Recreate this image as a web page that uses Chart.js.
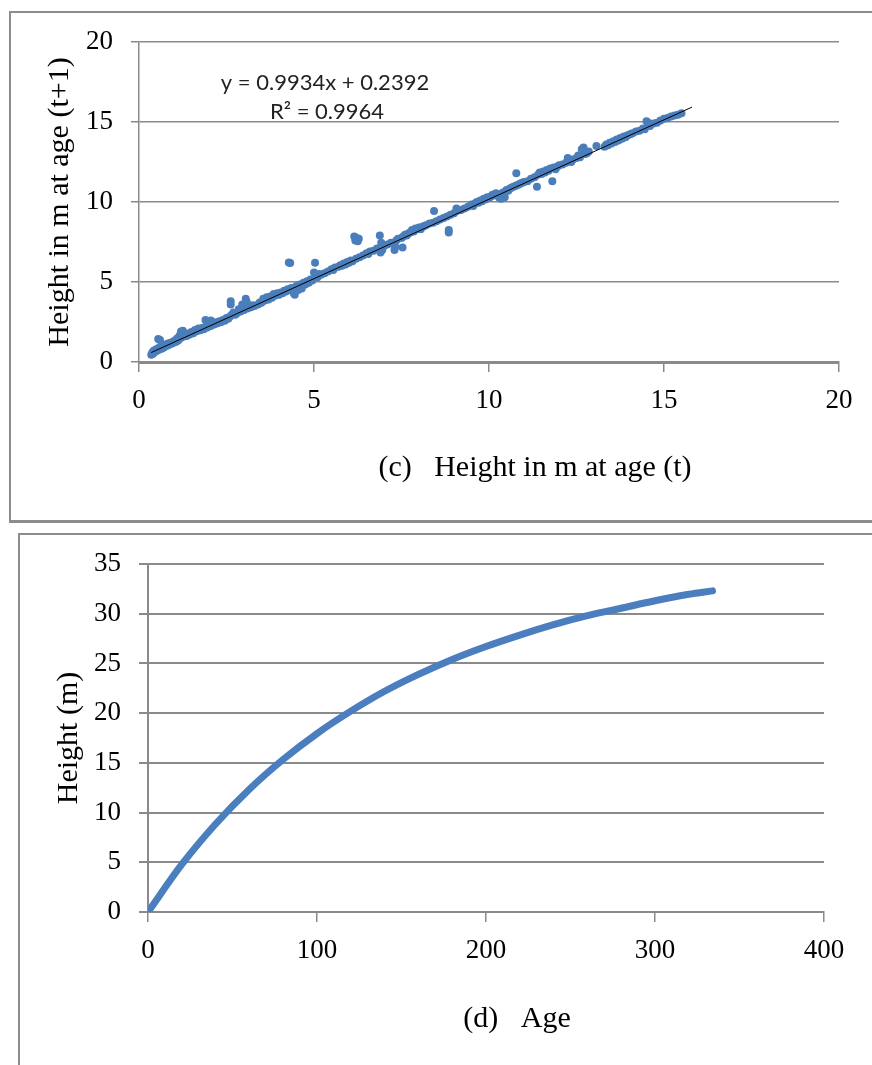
<!DOCTYPE html>
<html>
<head>
<meta charset="utf-8">
<script src="https://cdn.jsdelivr.net/npm/chart.js@4.4.0/dist/chart.umd.min.js"></script>
<style>
  body { margin: 0; width: 872px; height: 1065px; overflow: hidden; background: #fff; position: relative; }
  .panel { position: absolute; box-sizing: border-box; border-left: 2px solid #8c8c8c; border-top: 2px solid #8c8c8c; }
  #panelC { left: 9px; top: 11px; width: 900px; height: 512px; border-bottom: 3px solid #8c8c8c; }
  #panelD { left: 18px; top: 533px; width: 900px; height: 600px; }
  canvas { position: absolute; left: 0; }
  #chartC { top: 0; }
  #chartD { top: 522px; }
</style>
</head>
<body>
<div class="panel" id="panelC"></div>
<div class="panel" id="panelD"></div>
<canvas id="chartC" width="872" height="522"></canvas>
<canvas id="chartD" width="872" height="543"></canvas>
<script>
// (c) 高さ t -> t+1 の散布図
const heightAtT = [
  0.35, 0.38, 0.40, 0.42, 0.45, 0.48, 0.50, 0.52, 0.55, 0.58, 0.60, 0.55, 0.60, 0.63, 0.66, 0.70, 0.72, 0.75, 0.80, 0.83, 0.86, 0.90, 0.95, 1.00,
  1.05, 1.08, 1.12, 1.15, 1.18, 1.20, 1.22, 1.25, 1.28, 1.32, 1.36, 1.40, 1.45, 1.50, 1.55, 1.60, 1.65, 1.70, 1.75, 1.80, 1.85, 1.90, 1.95, 1.90, 2.05,
  2.00, 2.05, 2.10, 2.15, 2.20, 2.25, 2.30, 2.35, 2.40, 2.45, 2.50, 2.55, 2.60, 2.62, 2.62, 2.65, 2.70, 2.75, 2.80, 2.85, 2.90, 2.95, 3.00, 3.05, 3.08,
  3.10, 3.20, 3.25, 3.30, 3.40, 3.45, 3.50, 3.55, 3.60, 3.65, 3.70, 3.75, 3.80, 3.85, 3.90, 3.95, 4.00, 4.05, 4.10, 4.15, 4.20, 4.28, 4.32, 4.25, 4.30,
  4.35, 4.40, 4.42, 4.45, 4.50, 4.55, 4.60, 4.65, 4.70, 4.75, 4.80, 4.85, 4.90, 4.95,
  5.00, 5.03, 5.05, 5.10, 5.15, 5.20, 5.30, 5.40, 5.50, 5.55, 5.60, 5.70, 5.75, 5.80, 5.85, 5.90, 5.95, 6.00,
  6.05, 6.10, 6.15, 6.18, 6.22, 6.25, 6.28, 6.20, 6.30, 6.40, 6.50, 6.55, 6.60, 6.70, 6.80, 6.88, 6.92, 6.95, 6.90,
  7.00, 7.10, 7.20, 7.30, 7.32, 7.35, 7.40, 7.50, 7.53, 7.55, 7.60, 7.65, 7.70, 7.75, 7.80, 7.85, 7.90, 7.95,
  8.00, 8.05, 8.10, 8.15, 8.20, 8.30, 8.40, 8.43, 8.50, 8.60, 8.70, 8.80, 8.85, 8.85, 8.90, 9.00, 9.07,
  9.10, 9.20, 9.30, 9.40, 9.50, 9.55, 9.60, 9.65, 9.70, 9.75, 9.80, 9.85, 9.90, 9.95, 10.00,
  10.05, 10.10, 10.15, 10.20, 10.25, 10.30, 10.35, 10.40, 10.45, 10.50, 10.55, 10.60, 10.65, 10.70, 10.75, 10.78, 10.80, 10.85, 10.90, 10.95,
  11.00, 11.10, 11.20, 11.30, 11.37, 11.40, 11.45, 11.50, 11.55, 11.60, 11.65, 11.70, 11.75, 11.81, 11.85, 11.90, 11.95,
  12.00, 12.10, 12.20, 12.25, 12.30, 12.35, 12.40, 12.50, 12.55, 12.60, 12.65, 12.70, 12.75, 12.80, 12.85, 13.07,
  13.30, 13.35, 13.40, 13.45, 13.50, 13.55, 13.60, 13.65, 13.70, 13.75, 13.80, 13.85, 13.90, 13.95, 14.00, 14.05, 14.10, 14.20, 14.30, 14.40,
  14.45, 14.50, 14.55, 14.60, 14.70, 14.80, 14.90, 15.00, 15.10, 15.20, 15.30, 15.40, 15.50
];
const heightAtT1 = [
  0.45, 0.60, 0.52, 0.70, 0.62, 0.78, 0.68, 0.82, 0.75, 0.90, 0.80, 1.43, 1.38, 0.95, 0.85, 1.00, 0.92, 1.10, 1.02, 1.15, 1.08, 1.20, 1.15, 1.32,
  1.25, 1.45, 1.35, 1.62, 1.48, 1.90, 1.55, 1.95, 1.60, 1.70, 1.62, 1.78, 1.72, 1.88, 1.80, 2.00, 1.92, 2.10, 1.98, 2.12, 2.05, 2.20, 2.15, 2.62, 2.60,
  2.30, 2.25, 2.40, 2.35, 2.48, 2.42, 2.55, 2.50, 2.62, 2.58, 2.75, 2.70, 2.85, 3.80, 3.60, 2.95, 3.10, 2.95, 3.05, 3.30, 3.15, 3.60, 3.25, 3.95, 3.75,
  3.35, 3.42, 3.55, 3.50, 3.60, 3.72, 3.70, 3.95, 3.85, 4.05, 3.90, 4.10, 4.02, 4.25, 4.15, 4.30, 4.20, 4.35, 4.30, 4.45, 4.40, 6.22, 6.18, 4.55, 4.50,
  4.62, 4.58, 4.30, 4.20, 4.75, 4.50, 4.85, 4.60, 4.95, 4.85, 5.05, 4.95, 5.15, 5.10,
  5.60, 6.20, 5.45, 5.30, 5.50, 5.45, 5.55, 5.65, 5.80, 5.75, 5.90, 5.95, 6.05, 6.02, 6.15, 6.10, 6.25, 6.20,
  6.35, 6.30, 7.85, 7.60, 7.75, 7.55, 7.70, 6.45, 6.55, 6.65, 6.80, 6.75, 6.90, 6.95, 7.10, 7.90, 7.45, 7.00, 6.85,
  7.25, 7.35, 7.45, 7.00, 7.20, 7.60, 7.70, 7.75, 7.15, 7.85, 7.95, 7.90, 8.05, 8.10, 8.25, 8.15, 8.35, 8.30,
  8.40, 8.30, 8.45, 8.50, 8.55, 8.65, 8.70, 9.43, 8.80, 8.90, 9.00, 9.10, 8.10, 8.25, 9.20, 9.30, 9.60,
  9.45, 9.50, 9.60, 9.70, 9.85, 9.75, 9.90, 10.00, 9.95, 10.10, 10.05, 10.20, 10.15, 10.30, 10.25,
  10.35, 10.45, 10.40, 10.55, 10.50, 10.25, 10.20, 10.60, 10.30, 10.75, 10.70, 10.85, 10.90, 10.95, 11.00, 11.80, 11.05, 11.10, 11.15, 11.20,
  11.25, 11.30, 11.45, 11.55, 10.95, 11.70, 11.85, 11.75, 11.90, 11.85, 12.00, 11.95, 12.10, 11.30, 12.15, 12.05, 12.20,
  12.30, 12.35, 12.45, 12.75, 12.55, 12.50, 12.65, 12.75, 12.90, 12.80, 13.30, 13.40, 13.00, 13.05, 13.15, 13.50,
  13.45, 13.60, 13.55, 13.70, 13.65, 13.80, 13.75, 13.90, 13.85, 14.00, 13.95, 14.10, 14.05, 14.15, 14.20, 14.25, 14.30, 14.40, 14.45, 14.60,
  14.55, 15.05, 14.95, 14.75, 14.90, 14.95, 15.10, 15.20, 15.25, 15.35, 15.40, 15.45, 15.55
];
// 近似直線 y = 0.9934x + 0.2392 の両端
const trendX = [0.35, 15.8];
const trendY = [0.59, 15.93];
const ticksC = [0, 5, 10, 15, 20];

// (d) 樹齢と樹高
const ageValues = [0, 20, 40, 60, 80, 100, 120, 140, 160, 180, 200, 220, 240, 260, 280, 300, 320, 334];
const heightValues = [0, 4.78, 8.85, 12.35, 15.35, 17.95, 20.2, 22.2, 23.9, 25.4, 26.7, 27.85, 28.9, 29.8, 30.55, 31.3, 31.95, 32.3];
const ticksDX = [0, 100, 200, 300, 400];
const ticksDY = [0, 5, 10, 15, 20, 25, 30, 35];

const gridGray = '#8a8a8a';
const serif = '"Liberation Serif", "Times New Roman", serif';

// 図中のテキストを描くプラグイン
const panelText = {
  id: 'panelText',
  afterDraw(chart, args, opts) {
    const ctx = chart.ctx;
    ctx.save();
    (opts.items || []).forEach(item => {
      ctx.font = item.font;
      ctx.fillStyle = item.color || '#000';
      ctx.textAlign = 'center';
      ctx.textBaseline = 'middle';
      ctx.fillText(item.text, item.x, item.y);
    });
    ctx.restore();
  }
};

function tickFont(size) {
  return { family: serif, size: size };
}

// 散布図 (c)
new Chart(document.getElementById('chartC'), {
  type: 'scatter',
  data: {
    datasets: [{
      type: 'line',
      data: trendX.map((x, i) => ({ x: x, y: trendY[i] })),
      borderColor: '#000',
      borderWidth: 1,
      pointRadius: 0,
      fill: false
    }, {
      data: heightAtT.map((x, i) => ({ x: x, y: heightAtT1[i] })),
      backgroundColor: '#4A7EBB',
      borderWidth: 0,
      pointRadius: 4
    }]
  },
  options: {
    responsive: false,
    animation: false,
    layout: { padding: { left: 0, right: 33, top: 42, bottom: 20 } },
    plugins: {
      legend: { display: false },
      tooltip: { enabled: false },
      panelText: {
        items: [
          { text: 'y = 0.9934x + 0.2392', x: 325, y: 83, font: '22px Lato, "Open Sans", sans-serif', color: '#222' },
          { text: 'R² = 0.9964', x: 327, y: 112, font: '22px Lato, "Open Sans", sans-serif', color: '#222' },
          { text: '(c)\u00a0\u00a0\u00a0Height in m at age (t)', x: 535, y: 468, font: '30px ' + serif }
        ]
      }
    },
    scales: {
      x: {
        type: 'linear', min: 0, max: 20,
        afterFit: s => { s.height = 140; },
        afterBuildTicks: s => { s.ticks = ticksC.map(v => ({ value: v })); },
        ticks: { font: tickFont(27), color: '#000', padding: 13 },
        grid: { drawOnChartArea: false, drawTicks: true, tickLength: 10, color: gridGray, lineWidth: 1.5 },
        border: { color: gridGray, width: 3 }
      },
      y: {
        min: 0, max: 20,
        afterFit: s => { s.width = 139; },
        afterBuildTicks: s => { s.ticks = ticksC.map(v => ({ value: v })); },
        ticks: { font: tickFont(27), color: '#000', padding: 18 },
        grid: { color: gridGray, lineWidth: 1.5, tickLength: 8 },
        border: { color: gridGray, width: 1.5 },
        title: { display: true, text: 'Height in m at age (t+1)', font: { family: serif, size: 30 }, color: '#000', padding: { top: 42, bottom: 0 } }
      }
    }
  },
  plugins: [panelText]
});

// 成長曲線 (d)
new Chart(document.getElementById('chartD'), {
  type: 'line',
  data: {
    datasets: [{
      data: ageValues.map((a, i) => ({ x: a, y: heightValues[i] })),
      borderColor: '#4A7EBF',
      borderWidth: 7,
      borderCapStyle: 'round',
      borderJoinStyle: 'round',
      cubicInterpolationMode: 'monotone',
      pointRadius: 0,
      fill: false
    }]
  },
  options: {
    responsive: false,
    animation: false,
    layout: { padding: { left: 0, right: 48, top: 42, bottom: 20 } },
    plugins: {
      legend: { display: false },
      tooltip: { enabled: false },
      panelText: {
        items: [
          { text: '(d)\u00a0\u00a0\u00a0Age', x: 517, y: 497, font: '30px ' + serif }
        ]
      }
    },
    scales: {
      x: {
        type: 'linear', min: 0, max: 400,
        afterFit: s => { s.height = 133; },
        afterBuildTicks: s => { s.ticks = ticksDX.map(v => ({ value: v })); },
        ticks: { font: tickFont(27), color: '#000', padding: 13 },
        grid: { drawOnChartArea: false, drawTicks: true, tickLength: 10, color: gridGray, lineWidth: 1.5 },
        border: { color: gridGray, width: 2 }
      },
      y: {
        min: 0, max: 35,
        afterFit: s => { s.width = 148; },
        afterBuildTicks: s => { s.ticks = ticksDY.map(v => ({ value: v })); },
        ticks: { font: tickFont(27), color: '#000', padding: 18 },
        grid: { color: gridGray, lineWidth: 2, tickLength: 9 },
        border: { color: gridGray, width: 2 },
        title: { display: true, text: 'Height (m)', font: { family: serif, size: 30 }, color: '#000', padding: { top: 51, bottom: 0 } }
      }
    }
  },
  plugins: [panelText]
});
</script>
</body>
</html>
